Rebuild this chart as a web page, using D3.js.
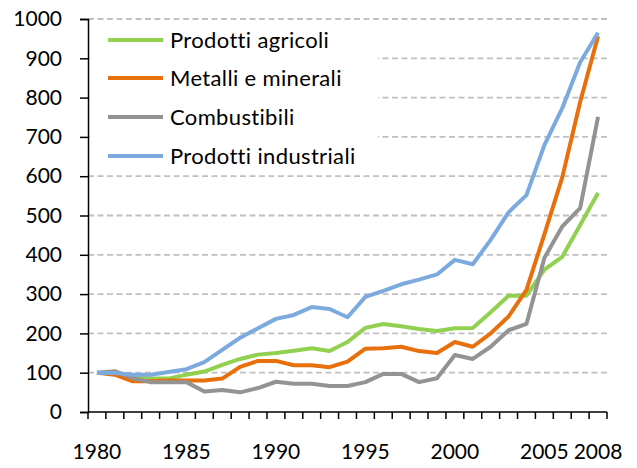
<!DOCTYPE html>
<html><head><meta charset="utf-8">
<script src="https://cdn.jsdelivr.net/npm/d3@7"></script>
<style>
body{margin:0;background:#fff;}
svg{display:block;}
text{font-family:Lato,"Open Sans",sans-serif;fill:#000;}
</style></head>
<body>
<svg id="chart" width="637" height="468"></svg>
<script>
const years = [1980,1981,1982,1983,1984,1985,1986,1987,1988,1989,1990,1991,1992,1993,1994,1995,1996,1997,1998,1999,2000,2001,2002,2003,2004,2005,2006,2007,2008];
const agricoli = [100,98,90,85,85,95,103,120,135,146,150,156,162,155,178,214,224,218,211,206,213,214,254,296,296,362,395,476,557];
const metalli = [100,95,78,78,80,80,80,85,115,130,130,119,119,114,128,161,162,166,155,150,178,166,200,243,311,452,597,789,956];
const combustibili = [100,104,86,76,76,76,52,56,50,61,77,72,72,66,66,76,97,97,76,86,145,135,166,208,224,392,472,519,751];
const industriali = [99,99,95,95,102,109,127,158,189,213,237,247,267,262,241,293,308,325,337,350,387,376,438,508,552,679,773,890,965];
const seriesNames = ["Prodotti agricoli","Metalli e minerali","Combustibili","Prodotti industriali"];
const seriesColors = ["#92d050","#e8700c","#939393","#7caade"];
const yTicks = [0,100,200,300,400,500,600,700,800,900,1000];
const xTickLabels = [1980,1985,1990,1995,2000,2005,2008];

const seriesValues = [agricoli, metalli, combustibili, industriali];
const svg = d3.select("#chart");

const x = d3.scaleBand().domain(years).range([88, 607]).padding(0);
const cx = d => x(d) + x.bandwidth()/2;
const y = d3.scaleLinear().domain([0,1000]).range([412, 19]);

// gridlines
svg.append("g").selectAll("line").data(yTicks.filter(v=>v>0)).join("line")
  .attr("x1", 88).attr("x2", 607)
  .attr("y1", d=>y(d)).attr("y2", d=>y(d))
  .attr("stroke", "#c0c0c0").attr("stroke-width", 1.8)
  .attr("stroke-dasharray", "6,3.5");

// y axis
const yAxis = svg.append("g").attr("transform","translate(88,0)")
  .call(d3.axisLeft(y).tickValues(yTicks).tickSize(8).tickPadding(18).tickFormat(d3.format("d")));
yAxis.select(".domain").attr("stroke","#000").attr("stroke-width",1.5);
yAxis.selectAll(".tick line").attr("stroke","#000").attr("stroke-width",1.5);
yAxis.selectAll("text").attr("font-size",21).attr("font-family","Lato,'Open Sans',sans-serif").attr("fill","#000");

// x axis
const xg = svg.append("g");
xg.append("line").attr("x1",88).attr("x2",607).attr("y1",y(0)).attr("y2",y(0))
  .attr("stroke","#000").attr("stroke-width",1.5);
const bounds = years.map(d=>x(d)).concat([x(years[years.length-1])+x.bandwidth()]);
xg.selectAll("line.t").data(bounds).join("line").attr("class","t")
  .attr("x1",d=>d).attr("x2",d=>d).attr("y1",y(0)).attr("y2",y(0)+7)
  .attr("stroke","#000").attr("stroke-width",1.5);
xg.selectAll("text").data(xTickLabels).join("text")
  .attr("x",d=>cx(d)).attr("y",459).attr("text-anchor","middle")
  .attr("font-size",21).text(d=>d);

// legend background
svg.append("rect").attr("x",90).attr("y",21).attr("width",288).attr("height",153).attr("fill","#fff");

// lines
const line = d3.line().x((d,i)=>cx(years[i])).y(d=>y(d));
svg.append("g").selectAll("path").data(seriesValues).join("path")
  .attr("d", d=>line(d)).attr("fill","none")
  .attr("stroke",(d,i)=>seriesColors[i]).attr("stroke-width",4)
  .attr("stroke-linejoin","round");

// legend
const legY = [40,78,117,156];
const lg = svg.append("g").selectAll("g").data(seriesNames).join("g");
lg.append("line").attr("x1",108).attr("x2",163).attr("y1",(d,i)=>legY[i]).attr("y2",(d,i)=>legY[i])
  .attr("stroke",(d,i)=>seriesColors[i]).attr("stroke-width",4);
lg.append("text").attr("x",170).attr("y",(d,i)=>legY[i]+7.5).attr("font-size",22)
  .attr("letter-spacing",0.35).text(d=>d);
</script>
</body></html>
